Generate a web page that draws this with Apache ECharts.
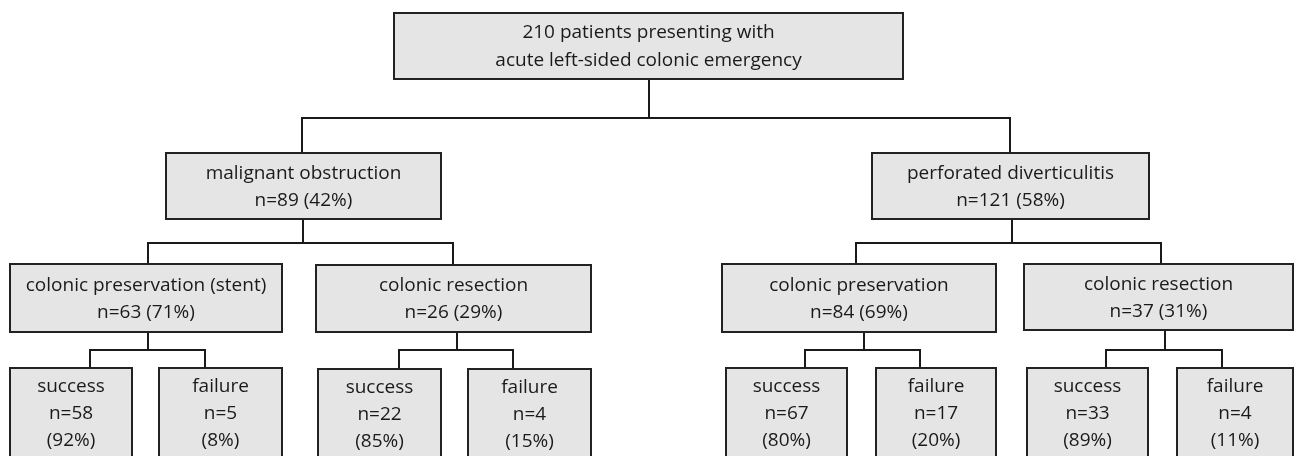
<!DOCTYPE html>
<html>
<head>
<meta charset="utf-8">
<script src="https://cdn.jsdelivr.net/npm/echarts@6/dist/echarts.min.js"></script>
<style>
  html, body { margin: 0; padding: 0; background: #fff; }
  #chart { width: 1295px; height: 456px; }
</style>
</head>
<body>
<div id="chart"></div>
<script>
// node values
var names = [
  '210 patients presenting with\nacute left-sided colonic emergency',
  'malignant obstruction', 'perforated diverticulitis',
  'colonic preservation (stent)', 'colonic resection',
  'colonic preservation', 'colonic resection',
  'success', 'failure', 'success', 'failure',
  'success', 'failure', 'success', 'failure'
]
var counts = [210, 89, 121, 63, 26, 84, 37, 58, 5, 22, 4, 67, 17, 33, 4]
var percents = [null, 42, 58, 71, 29, 69, 31, 92, 8, 85, 15, 80, 20, 89, 11]
var levels = [0, 1, 1, 2, 2, 2, 2, 3, 3, 3, 3, 3, 3, 3, 3]
// parent -> children
var children = [[0, [1, 2]], [1, [3, 4]], [2, [5, 6]], [3, [7, 8]], [4, [9, 10]], [5, [11, 12]], [6, [13, 14]]]

// layout (pixel units of the hidden axes): [x0, x1, y0, y1]
var boxes = [
  [394, 903, 13, 79],
  [166, 441, 153, 219], [872, 1149, 153, 219],
  [10, 282, 264, 332], [316, 591, 265, 332], [722, 996, 264, 332], [1024, 1293, 264, 330],
  [10, 132, 368, 480], [159, 282, 368, 480], [318, 441, 369, 480], [468, 591, 369, 480],
  [726, 847, 368, 480], [876, 996, 368, 480], [1027, 1148, 368, 480], [1177, 1293, 368, 480]
]
// connector layout: [stem x, bar y, [drop xs]]
var elbows = [
  [649, 118, [302, 1010]],
  [303, 243, [148, 453]],
  [1012, 243, [856, 1161]],
  [148, 350, [90, 205]],
  [457, 350, [399, 513]],
  [864, 350, [805, 920]],
  [1165, 350, [1106, 1222]]
]

function boxText(i) {
  if (levels[i] === 0) return names[i]
  if (levels[i] < 3) return names[i] + '\nn=' + counts[i] + ' (' + percents[i] + '%)'
  return names[i] + '\nn=' + counts[i] + '\n(' + percents[i] + '%)'
}

var chart = echarts.init(document.getElementById('chart'))

chart.setOption({
  animation: false,
  grid: { left: 0, right: 0, top: 0, bottom: 0 },
  xAxis: { type: 'value', min: 0, max: 1295, show: false },
  yAxis: { type: 'value', min: 0, max: 456, inverse: true, show: false },
  series: [
    {
      type: 'custom',
      name: 'links',
      data: children.map(function (c, k) { return [k, c[0]] }),
      renderItem: function (params, api) {
        var k = api.value(0)
        var p = boxes[api.value(1)]
        var e = elbows[k]
        var kids = children[k][1]
        var lineStyle = { stroke: '#1a1a1a', lineWidth: 2, fill: null }
        var els = []
        var a = api.coord([e[0], p[3]])
        var b = api.coord([e[0], e[1]])
        els.push({ type: 'line', shape: { x1: a[0], y1: a[1], x2: b[0], y2: b[1] }, style: lineStyle })
        var l = api.coord([e[2][0], e[1]])
        var r = api.coord([e[2][1], e[1]])
        els.push({ type: 'line', shape: { x1: l[0] - 1, y1: l[1], x2: r[0] + 1, y2: r[1] }, style: lineStyle })
        e[2].forEach(function (dx, j) {
          var s = api.coord([dx, e[1]])
          var t = api.coord([dx, boxes[kids[j]][2]])
          els.push({ type: 'line', shape: { x1: s[0], y1: s[1], x2: t[0], y2: t[1] }, style: lineStyle })
        })
        return { type: 'group', children: els }
      }
    },
    {
      type: 'custom',
      name: 'nodes',
      data: counts.map(function (c, i) { return [i, c] }),
      renderItem: function (params, api) {
        var i = api.value(0)
        var b = boxes[i]
        var p0 = api.coord([b[0], b[2]])
        var p1 = api.coord([b[1], b[3]])
        var cx = (p0[0] + p1[0]) / 2
        var lvl = levels[i]
        var ty, va
        if (lvl < 3) { ty = (p0[1] + p1[1]) / 2 + 1; va = 'middle' } else { ty = p0[1] + 5; va = 'top' }
        return {
          type: 'group',
          children: [
            {
              type: 'rect',
              shape: { x: p0[0], y: p0[1], width: p1[0] - p0[0], height: p1[1] - p0[1] },
              style: { fill: '#e5e5e5', stroke: '#222', lineWidth: 2 }
            },
            {
              type: 'text',
              x: cx, y: ty,
              style: {
                text: boxText(i),
                fill: '#1a1a1a',
                font: '19px "Open Sans", "Noto Sans", sans-serif',
                align: 'center',
                verticalAlign: va,
                lineHeight: lvl === 0 ? 28 : 27
              }
            }
          ]
        }
      }
    }
  ]
})
</script>
</body>
</html>
